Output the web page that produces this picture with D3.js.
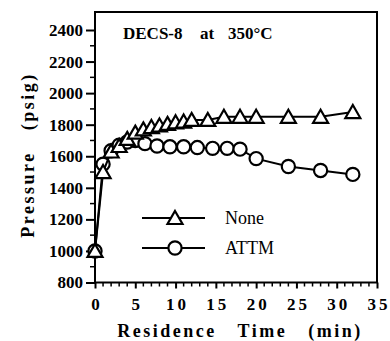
<!DOCTYPE html>
<html>
<head>
<meta charset="utf-8">
<script src="https://cdn.jsdelivr.net/npm/d3@7"></script>
<style>
  body { margin: 0; background: #fff; }
  svg { display: block; }
  svg text { font-family: "Liberation Serif", "Times New Roman", Times, "DejaVu Serif", serif; }
</style>
</head>
<body>
<script>
// Reactor pressure vs residence time, DECS-8 at 350 °C
const noneTime = [0, 1, 2, 3, 4, 5, 6, 7, 8, 9, 10, 11, 12, 14, 16, 18, 20, 24, 28, 32];
const nonePressure = [1000, 1500, 1630, 1665, 1710, 1750, 1770, 1785, 1795, 1805, 1815, 1820, 1830, 1830, 1850, 1850, 1850, 1850, 1850, 1880];

const attmTime = [0, 1, 2, 3, 4, 5, 6.2, 7.7, 9.3, 11, 12.7, 14.6, 16.4, 18, 20, 24, 28, 32];
const attmPressure = [1000, 1550, 1635, 1670, 1690, 1700, 1680, 1665, 1660, 1660, 1655, 1650, 1650, 1645, 1585, 1535, 1510, 1485];

const xTickValues = [0, 5, 10, 15, 20, 25, 30, 35];
const yTickValues = [800, 1000, 1200, 1400, 1600, 1800, 2000, 2200, 2400];

const titleParts = ["DECS-8", "at", "350°C"];
const legendLabels = ["None", "ATTM"];

const W = 390, H = 341;
const plotLeft = 95, plotRight = 377, plotTop = 12, plotBottom = 282.5;

const svg = d3.select("body").append("svg")
  .attr("width", W).attr("height", H)
  .attr("viewBox", `0 0 ${W} ${H}`);

const x = d3.scaleLinear().domain([0, 35]).range([plotLeft, plotRight]);
const y = d3.scaleLinear().domain([800, 2400]).range([plotBottom, 30]);

// frame
svg.append("rect")
  .attr("x", plotLeft).attr("y", plotTop)
  .attr("width", plotRight - plotLeft).attr("height", plotBottom - plotTop)
  .attr("fill", "none").attr("stroke", "#000").attr("stroke-width", 2);

// minor ticks on y (every 100) and x (every 1)
const yMinor = d3.range(900, 2500, 200);
svg.append("g").selectAll("line").data(yMinor).join("line")
  .attr("x1", plotLeft - 5).attr("x2", plotLeft)
  .attr("y1", d => y(d)).attr("y2", d => y(d))
  .attr("stroke", "#000").attr("stroke-width", 1.5);

const xMinor = d3.range(0, 36, 1).filter(d => d % 5 !== 0);
svg.append("g").selectAll("line").data(xMinor).join("line")
  .attr("x1", d => x(d)).attr("x2", d => x(d))
  .attr("y1", plotBottom).attr("y2", plotBottom + 4)
  .attr("stroke", "#000").attr("stroke-width", 1.5);

// y axis
const yAxis = d3.axisLeft(y).tickValues(yTickValues).tickSize(9).tickPadding(3).tickFormat(d3.format("d"));
const gy = svg.append("g").attr("transform", `translate(${plotLeft},0)`).call(yAxis);
gy.attr("font-family", null);
gy.select(".domain").remove();
gy.selectAll(".tick line").attr("stroke-width", 2);
gy.selectAll(".tick text")
  .attr("font-weight", "bold").attr("font-size", 17).attr("fill", "#000");

// x axis
const xAxis = d3.axisBottom(x).tickValues(xTickValues).tickSize(6).tickPadding(9).tickFormat(d3.format("d"));
const gx = svg.append("g").attr("transform", `translate(0,${plotBottom})`).call(xAxis);
gx.attr("font-family", null);
gx.select(".domain").remove();
gx.selectAll(".tick line").attr("stroke-width", 2);
gx.selectAll(".tick text")
  .attr("font-weight", "bold").attr("font-size", 17).attr("fill", "#000")
  .attr("letter-spacing", "3px").attr("dx", "1.5px");

// axis titles
svg.append("text")
  .attr("x", 240).attr("y", 337)
  .attr("text-anchor", "middle")
  .attr("font-weight", "bold").attr("font-size", 18)
  .attr("letter-spacing", "2.5px")
  .style("white-space", "pre")
  .text("Residence   Time   (min)");

svg.append("text")
  .attr("transform", "translate(34,155) rotate(-90)")
  .attr("text-anchor", "middle")
  .attr("font-weight", "bold").attr("font-size", 18)
  .attr("letter-spacing", "2.5px")
  .style("white-space", "pre")
  .text("Pressure   (psig)");

// title inside the plot
const titleX = [123, 200, 228];
svg.append("g").selectAll("text").data(titleParts).join("text")
  .attr("x", (d, i) => titleX[i]).attr("y", 39)
  .attr("font-weight", "bold").attr("font-size", 17)
  .text(d => d);

const line = d3.line().x(d => x(d[0])).y(d => y(d[1]));
const nonePts = noneTime.map((t, i) => [t, nonePressure[i]]);
const attmPts = attmTime.map((t, i) => [t, attmPressure[i]]);

function drawTriangle(g, cx, cy) {
  g.append("path")
    .attr("d", "M0,-7L7.5,6L-7.5,6Z")
    .attr("transform", `translate(${cx},${cy})`)
    .attr("fill", "#fff").attr("stroke", "#000").attr("stroke-width", 2.2)
    .attr("stroke-linejoin", "miter");
}
function drawCircle(g, cx, cy) {
  g.append("circle").attr("cx", cx).attr("cy", cy).attr("r", 6.6)
    .attr("fill", "#fff").attr("stroke", "#000").attr("stroke-width", 2.2);
}

// ATTM series
const gA = svg.append("g");
gA.append("path").datum(attmPts).attr("d", line)
  .attr("fill", "none").attr("stroke", "#000").attr("stroke-width", 2);
attmPts.forEach(p => drawCircle(gA, x(p[0]), y(p[1])));

// None series
const gN = svg.append("g");
gN.append("path").datum(nonePts).attr("d", line)
  .attr("fill", "none").attr("stroke", "#000").attr("stroke-width", 2);
nonePts.forEach(p => drawTriangle(gN, x(p[0]), y(p[1])));

// legend
const legY = [218, 248];
const gL = svg.append("g");
legY.forEach((ly, i) => {
  gL.append("line").attr("x1", 142).attr("x2", 205).attr("y1", ly).attr("y2", ly)
    .attr("stroke", "#000").attr("stroke-width", 2);
  if (i === 0) drawTriangle(gL, 175, ly);
  else drawCircle(gL, 175, ly);
  gL.append("text").attr("x", 225).attr("y", ly + 6)
    .attr("font-size", 18)
    .text(legendLabels[i]);
});
</script>
</body>
</html>
